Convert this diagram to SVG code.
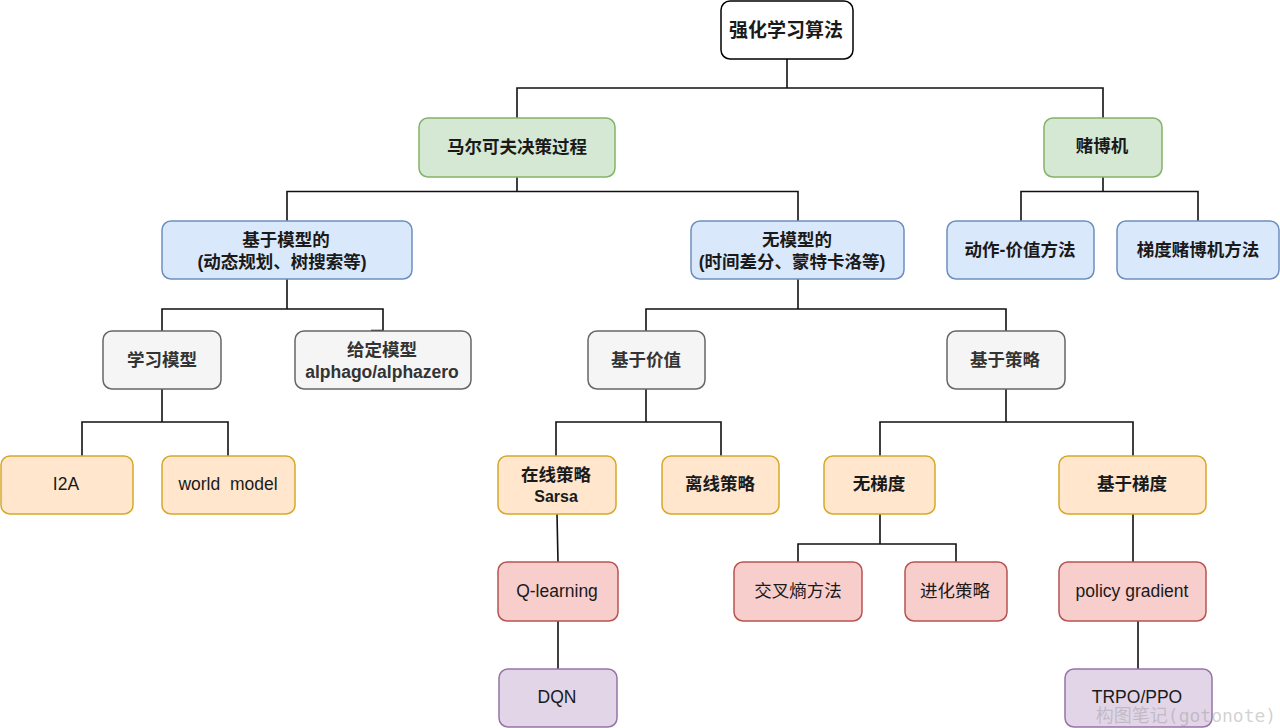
<svg xmlns="http://www.w3.org/2000/svg" width="1280" height="728" viewBox="0 0 1280 728">
<style>
text{font-family:"Liberation Sans","Noto Sans CJK SC",sans-serif;font-size:17.5px;text-anchor:middle;fill:#1a1a1a}
.b{font-weight:bold}
.box{stroke-width:1.5}
.w{fill:#fff;stroke:#000}
.g{fill:#d5e8d4;stroke:#82b366}
.bl{fill:#dae8fc;stroke:#6c8ebf}
.gr{fill:#f5f5f5;stroke:#666}
.gr+text,.gr+text+text{fill:#333}
.o{fill:#ffe6cc;stroke:#d6a92a}
.r{fill:#f8cecc;stroke:#b85450}
.p{fill:#e1d5e7;stroke:#9673a6}
#connectors path{fill:none;stroke:#111;stroke-width:1.6}
</style>
<rect width="1280" height="728" fill="#fff"/>
<g id="connectors">
<path d="M787 59V88M517 118V88H1103V118"/>
<path d="M517 177V191.500M287 221V191.500H798V221"/>
<path d="M1103 177V191.500M1021 221V191.500H1198V221"/>
<path d="M287 279V309M162 331V309H383V330.500H371"/>
<path d="M798 279V309M646 331V309H1006V331"/>
<path d="M162 389V422M82 456V422H228V456"/>
<path d="M646 389V422M556 456V422H721V456"/>
<path d="M1006 389V422M880 456V422H1133V456"/>
<path d="M557 514L558 562M558 621V669"/>
<path d="M880 514V544M798 562V544H956V562"/>
<path d="M1133 514V562M1138 621V669"/>
</g>
<g id="n-root"><rect class="box w" x="721" y="1" width="132" height="58" rx="9"/><text class="b" x="786" y="37" style="font-size:19px">强化学习算法</text></g>
<g id="n-mdp"><rect class="box g" x="419" y="118" width="196" height="59" rx="9"/><text class="b" x="517" y="153">马尔可夫决策过程</text></g>
<g id="n-bandit"><rect class="box g" x="1044" y="118" width="118" height="59" rx="9"/><text class="b" x="1102" y="152">赌博机</text></g>
<g id="n-model"><rect class="box bl" x="162" y="221" width="250" height="58" rx="9"/><text class="b" x="286" y="246">基于模型的</text><text class="b" x="282" y="268">(动态规划、树搜索等)</text></g>
<g id="n-free"><rect class="box bl" x="691" y="221" width="213" height="58" rx="9"/><text class="b" x="797" y="246">无模型的</text><text class="b" x="792" y="268">(时间差分、蒙特卡洛等)</text></g>
<g id="n-action"><rect class="box bl" x="947" y="221" width="147" height="58" rx="9"/><text class="b" x="1020" y="256">动作-价值方法</text></g>
<g id="n-gradbandit"><rect class="box bl" x="1117" y="221" width="162" height="58" rx="9"/><text class="b" x="1198" y="256">梯度赌博机方法</text></g>
<g id="n-learn"><rect class="box gr" x="103" y="331" width="118" height="58" rx="9"/><text class="b" x="162" y="366">学习模型</text></g>
<g id="n-given"><rect class="box gr" x="295" y="331" width="176" height="58" rx="9"/><text class="b" x="382" y="356">给定模型</text><text class="b" x="382" y="378">alphago/alphazero</text></g>
<g id="n-value"><rect class="box gr" x="588" y="331" width="117" height="58" rx="9"/><text class="b" x="646" y="366">基于价值</text></g>
<g id="n-policy"><rect class="box gr" x="947" y="331" width="118" height="58" rx="9"/><text class="b" x="1005" y="366">基于策略</text></g>
<g id="n-i2a"><rect class="box o" x="1" y="456" width="132" height="58" rx="9"/><text x="66" y="490">I2A</text></g>
<g id="n-world"><rect class="box o" x="162" y="456" width="133" height="58" rx="9"/><text x="228" y="490" xml:space="preserve">world  model</text></g>
<g id="n-on"><rect class="box o" x="498" y="456" width="118" height="58" rx="9"/><text class="b" x="556" y="481">在线策略</text><text class="b" x="556" y="502" style="font-size:16px">Sarsa</text></g>
<g id="n-off"><rect class="box o" x="662" y="456" width="117" height="58" rx="9"/><text class="b" x="720" y="490">离线策略</text></g>
<g id="n-nograd"><rect class="box o" x="824" y="456" width="111" height="58" rx="9"/><text class="b" x="879" y="490">无梯度</text></g>
<g id="n-grad"><rect class="box o" x="1059" y="456" width="147" height="58" rx="9"/><text class="b" x="1132" y="490">基于梯度</text></g>
<g id="n-q"><rect class="box r" x="498" y="562" width="120" height="59" rx="9"/><text x="557" y="597">Q-learning</text></g>
<g id="n-ce"><rect class="box r" x="734" y="562" width="128" height="59" rx="9"/><text x="798" y="597">交叉熵方法</text></g>
<g id="n-es"><rect class="box r" x="905" y="562" width="102" height="59" rx="9"/><text x="955" y="597">进化策略</text></g>
<g id="n-pg"><rect class="box r" x="1059" y="562" width="147" height="59" rx="9"/><text x="1132" y="597">policy gradient</text></g>
<g id="n-dqn"><rect class="box p" x="499" y="669" width="118" height="58" rx="9"/><text x="557" y="703">DQN</text></g>
<g id="n-trpo"><rect class="box p" x="1065" y="669" width="147" height="58" rx="9"/><text x="1137" y="703">TRPO/PPO</text></g>
<text x="1186" y="722" style="font-family:'DejaVu Sans Mono','Noto Sans CJK SC',monospace;font-size:18px;fill:#999;fill-opacity:.45">构图笔记(gotonote)</text>
</svg>
